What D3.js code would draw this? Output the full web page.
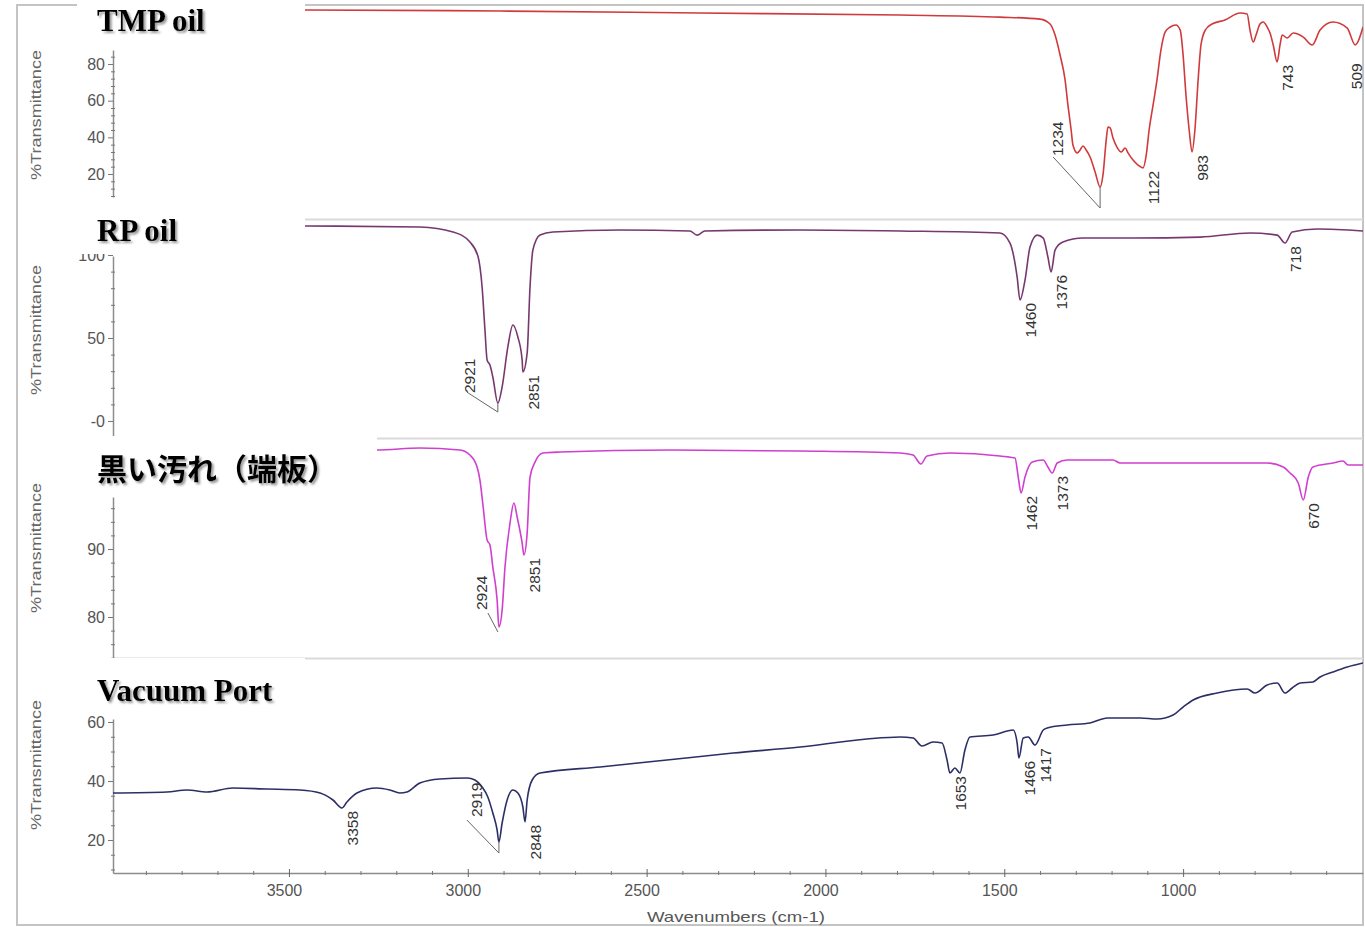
<!DOCTYPE html>
<html>
<head>
<meta charset="utf-8">
<script src="https://cdn.jsdelivr.net/npm/d3@7"></script>
<style>
  html, body { margin: 0; padding: 0; background: #fff; }
  svg { display: block; }
</style>
</head>
<body>
<div id="chart"></div>
<script>
// spectra: [wavenumber (cm-1), %T]
const tmpOil = [
  [3992,109.5],[3455,109.5],[2910,108.9],[2351,107.8],[1791,106.7],[1512,105.6],[1400,104.5],[1372,101.8],
  [1358,95.8],[1344,84.9],[1330,71.3],[1322,57.6],[1313,44.0],[1308,35.8],[1296,31.5],[1288,33.1],[1280,35.3],
  [1271,33.1],[1260,29.3],[1246,21.1],[1232,12.9],[1224,19.5],[1215,38.5],[1210,45.6],[1204,45.1],[1196,39.6],
  [1185,34.7],[1173,32.0],[1162,34.2],[1154,31.5],[1140,27.6],[1126,24.9],[1112,23.3],[1103,30.4],[1095,44.0],
  [1084,57.6],[1073,71.3],[1062,87.6],[1050,97.5],[1036,100.2],[1020,101.3],[1008,98.5],[1000,84.9],[992,63.1],
  [983,44.0],[975,32.0],[967,44.0],[958,71.3],[950,90.4],[938,98.5],[919,101.8],[883,104.0],[841,107.8],
  [821,107.3],[813,98.5],[804,92.0],[796,95.8],[785,101.8],[776,102.9],[765,100.2],[757,96.9],[748,90.4],
  [737,81.1],[729,90.4],[723,95.8],[709,94.2],[692,96.9],[664,94.7],[639,90.4],[617,98.5],[581,102.9],
  [541,99.6],[519,90.4],[497,100.2]
];
const rpOil = [
  [3992,118.1],[3455,117.5],[3134,116.9],[3041,113.9],[2994,107.8],[2971,98.8],[2960,80.7],[2952,54.8],
  [2946,36.7],[2938,33.7],[2930,26.5],[2916,10.8],[2904,20.5],[2888,44.6],[2874,57.8],[2860,50.6],[2848,36.7],
  [2846,29.5],[2834,41.0],[2826,80.7],[2818,103.0],[2798,112.0],[2762,113.9],[2574,115.1],[2379,114.5],
  [2359,112.0],[2337,114.5],[2071,115.1],[1791,114.5],[1512,113.3],[1484,107.2],[1464,86.7],[1456,72.9],
  [1442,84.9],[1428,104.8],[1408,112.0],[1391,110.2],[1378,98.8],[1369,89.8],[1358,103.0],[1336,107.8],
  [1280,110.2],[1140,110.2],[952,110.8],[813,113.3],[737,112.0],[715,107.2],[695,113.9],[625,115.7],[497,114.5]
];
const blackStain = [
  [3992,104.7],[3254,104.56],[3134,104.85],[3022,104.56],[2994,103.82],[2974,102.06],[2966,100.15],[2957,96.18],
  [2946,91.32],[2938,90.59],[2930,87.35],[2918,82.5],[2913,78.53],[2904,81.03],[2896,87.35],[2882,93.82],
  [2871,96.76],[2862,94.71],[2848,90.88],[2843,89.12],[2834,92.35],[2826,100.59],[2812,102.79],[2790,104.12],
  [2742,104.26],[2435,104.56],[2071,104.41],[1791,104.12],[1755,103.82],[1733,102.5],[1716,103.68],[1652,104.12],
  [1512,103.68],[1470,103.38],[1461,100.59],[1453,98.24],[1442,100.59],[1422,102.79],[1391,103.09],[1378,102.06],
  [1366,101.18],[1352,102.65],[1324,103.09],[1196,103.09],[1176,102.65],[952,102.65],[765,102.65],[720,102.06],
  [701,101.18],[678,99.71],[664,97.21],[650,100.59],[637,102.06],[581,102.65],[553,102.94],[539,102.35],[497,102.35]
];
const vacuumPort = [
  [3992,35.93],[3841,36.27],[3785,36.95],[3729,36.27],[3657,37.63],[3562,37.29],[3469,36.95],[3413,35.93],
  [3377,33.56],[3352,30.85],[3338,32.88],[3310,35.93],[3254,37.63],[3218,36.95],[3190,35.93],[3170,36.27],
  [3134,39.32],[3078,40.68],[3002,41.02],[2980,40.34],[2960,37.97],[2944,34.58],[2930,29.15],[2918,23.39],
  [2913,19.3],[2904,25.76],[2890,33.56],[2874,36.95],[2860,35.93],[2846,31.19],[2840,26.1],[2834,33.56],
  [2820,40.34],[2798,42.71],[2630,44.75],[2443,47.12],[2258,49.49],[2071,51.53],[1884,54.24],[1791,54.92],
  [1755,54.58],[1730,51.86],[1699,53.22],[1674,52.88],[1660,47.12],[1652,42.71],[1638,44.41],[1624,42.71],
  [1610,50.51],[1596,54.92],[1531,55.59],[1475,57.29],[1464,52.88],[1459,47.8],[1447,54.58],[1433,54.92],
  [1414,52.2],[1391,57.29],[1380,57.97],[1324,58.98],[1260,59.66],[1212,61.36],[1120,61.36],[1073,61.02],
  [1028,62.37],[1000,65.08],[972,67.46],[905,69.83],[821,71.19],[799,69.83],[765,72.54],[737,73.22],
  [715,69.83],[695,71.53],[673,73.22],[637,73.56],[617,75.25],[581,76.95],[541,78.64],[497,80.0]
];

// peak labels: [text, wavenumber, %T]
const tmpPeaks = [["1234",1232,12.9],["1122",1112,23.3],["983",975,32.0],["743",737,81.1],["509",545,82]];
const rpPeaks = [["2921",2916,10.8],["2851",2846,29.5],["1460",1456,72.9],["1376",1369,89.8],["718",715,107.2]];
const stainPeaks = [["2924",2913,78.53],["2851",2843,89.12],["1462",1453,98.24],["1373",1366,101.18],["670",664,97.21]];
const vacuumPeaks = [["3358",3352,30.85],["2919",2913,19.3],["2848",2840,26.1],["1653",1652,42.71],["1466",1459,47.8],["1417",1414,52.2]];

// axes
const xDomain = [3992, 497];
const xTicks = [3500, 3000, 2500, 2000, 1500, 1000];
const tmpYTicks = [20, 40, 60, 80];
const tmpYLabels = ["20", "40", "60", "80"];
const rpYTicks = [0, 50, 100];
const rpYLabels = ["-0", "50", "100"];
const stainYTicks = [80, 90];
const stainYLabels = ["80", "90"];
const vacuumYTicks = [20, 40, 60];
const vacuumYLabels = ["20", "40", "60"];

const titles = ["TMP oil", "RP oil", "黒い汚れ（端板）", "Vacuum Port"];

// layout
const W = 1365, H = 927;
const plotLeft = 113, plotRight = 1363;

const panels = [
  { title: titles[0], data: tmpOil, peaks: tmpPeaks, ticks: tmpYTicks, labels: tmpYLabels, minor: 4,
    yDomain: [7.45, 87.64], axisTop: 50, axisBottom: 197, top: 5, bottom: 219,
    color: "#d03a3c", box: [77, 0, 228, 48], titleY: 31, ylabelY: 115, font: "serif" },
  { title: titles[1], data: rpOil, peaks: rpPeaks, ticks: rpYTicks, labels: rpYLabels, minor: 10,
    yDomain: [-9.64, 99.4], axisTop: 256, axisBottom: 437, top: 221, bottom: 438,
    color: "#76386f", box: [77, 212, 228, 42], titleY: 241, ylabelY: 330, font: "serif" },
  { title: titles[2], data: blackStain, peaks: stainPeaks, ticks: stainYTicks, labels: stainYLabels, minor: 2,
    yDomain: [73.97, 97.65], axisTop: 497, axisBottom: 658, top: 440, bottom: 658,
    color: "#d03fd0", box: [77, 436, 300, 58], titleY: 480, ylabelY: 548, font: "cjk" },
  { title: titles[3], data: vacuumPort, peaks: vacuumPeaks, ticks: vacuumYTicks, labels: vacuumYLabels, minor: 5,
    yDomain: [8.81, 61.02], axisTop: 719, axisBottom: 873, top: 660, bottom: 873,
    color: "#2c2f66", box: [77, 658, 228, 58], titleY: 701, ylabelY: 765, font: "serif" }
];

// labels that sit off to the left with a leader line (pixel offsets from the peak)
const leaders = {
  "1234": { text: [-37, -31], line: [[-47, -30], [0, 21], [0, 0]] },
  "2921": { text: [-23, -10], line: [[-31, -11], [0, 9], [0, 0]] },
  "2924": { text: [-12, -17], line: [[-11, -14], [-1, 5]] },
  "2919": { text: [-17, -25], line: [[-32, -22], [0, 11], [0, 0]] }
};

const sans = "'Liberation Sans', Arial, sans-serif";
const axisColor = "#8c8c8c";
const textColor = "#555";

const svg = d3.select("#chart").append("svg")
  .attr("width", W).attr("height", H)
  .attr("font-family", sans);

svg.append("rect").attr("width", W).attr("height", H).attr("fill", "#fff");

const defs = svg.append("defs");
defs.append("filter").attr("id", "shadow")
  .attr("x", "-5%").attr("y", "-20%").attr("width", "115%").attr("height", "160%")
  .append("feDropShadow")
  .attr("dx", 2).attr("dy", 2).attr("stdDeviation", 1.2)
  .attr("flood-color", "#777").attr("flood-opacity", 0.75);

const x = d3.scaleLinear().domain(xDomain).range([plotLeft, plotRight]);

// outer frame
svg.append("rect")
  .attr("x", 17).attr("y", 5).attr("width", plotRight - 17).attr("height", 920)
  .attr("fill", "none").attr("stroke", "#c4c4c4").attr("stroke-width", 2);

panels.forEach((p, i) => {
  const y = d3.scaleLinear().domain(p.yDomain).range([p.axisBottom, p.axisTop]);
  const g = svg.append("g").attr("class", "panel");

  // separator under the panel
  if (i < panels.length - 1) {
    g.append("line")
      .attr("x1", plotLeft).attr("x2", plotRight)
      .attr("y1", p.bottom + 0.5).attr("y2", p.bottom + 0.5)
      .attr("stroke", "#dadada").attr("stroke-width", 2);
  }

  // minor ticks on the y axis
  const minorVals = d3.range(Math.ceil(p.yDomain[0] / p.minor) * p.minor, p.yDomain[1], p.minor)
    .filter(v => !p.ticks.includes(v));
  const minorAxis = d3.axisLeft(y).tickValues(minorVals).tickSize(2).tickSizeOuter(0).tickFormat("");
  g.append("g").attr("transform", `translate(${plotLeft},0)`).call(minorAxis)
    .call(a => a.selectAll(".tick line").attr("x2", 2).attr("x1", -2).attr("stroke", "#777"))
    .call(a => a.select(".domain").attr("stroke", axisColor).attr("stroke-width", 1.5));

  // major ticks + labels
  const yAxis = d3.axisLeft(y).tickValues(p.ticks).tickSize(5).tickSizeOuter(0)
    .tickFormat((d, k) => p.labels[k]);
  g.append("g").attr("transform", `translate(${plotLeft},0)`).call(yAxis)
    .call(a => a.select(".domain").remove())
    .call(a => a.selectAll(".tick line").attr("stroke", "#777"))
    .call(a => a.selectAll(".tick text")
      .attr("font-family", sans).attr("font-size", 16).attr("fill", textColor).attr("x", -8));

  // y axis title
  g.append("text")
    .attr("transform", `translate(41,${p.ylabelY}) rotate(-90)`)
    .attr("text-anchor", "middle")
    .attr("font-size", 14).attr("fill", "#666")
    .attr("textLength", 130).attr("lengthAdjust", "spacingAndGlyphs")
    .text("%Transmittance");

  // spectrum
  const clipId = "clip" + i;
  defs.append("clipPath").attr("id", clipId).append("rect")
    .attr("x", plotLeft).attr("y", p.top).attr("width", plotRight - plotLeft).attr("height", p.bottom - p.top);
  const line = d3.line().curve(d3.curveMonotoneX).x(d => x(d[0])).y(d => y(d[1]));
  g.append("path")
    .datum(p.data)
    .attr("clip-path", `url(#${clipId})`)
    .attr("d", line)
    .attr("fill", "none")
    .attr("stroke", p.color)
    .attr("stroke-width", 1.6)
    .attr("stroke-linejoin", "round");

  // peak labels
  p.peaks.forEach(([label, wn, t]) => {
    const px = x(wn), py = y(t);
    const lead = leaders[label];
    if (lead) {
      g.append("polyline")
        .attr("points", lead.line.map(([dx, dy]) => `${px + dx},${py + dy}`).join(" "))
        .attr("fill", "none").attr("stroke", "#666").attr("stroke-width", 1);
      g.append("text")
        .attr("transform", `translate(${px + lead.text[0]},${py + lead.text[1]}) rotate(-90)`)
        .attr("text-anchor", "start")
        .attr("font-size", 15.5).attr("fill", "#333")
        .text(label);
    } else {
      g.append("text")
        .attr("transform", `translate(${px + 16},${py + 3}) rotate(-90)`)
        .attr("text-anchor", "end")
        .attr("font-size", 15.5).attr("fill", "#333")
        .text(label);
    }
  });
});

// bottom wavenumber axis
const last = panels[panels.length - 1];
const minorX = d3.range(600, 3901, 100).filter(v => v % 500 !== 0);
svg.append("g").attr("transform", `translate(0,${last.axisBottom})`)
  .call(d3.axisBottom(x).tickValues(minorX).tickSize(2).tickSizeOuter(0).tickFormat(""))
  .call(a => a.selectAll(".tick line").attr("y1", -2).attr("y2", 2).attr("stroke", "#777"))
  .call(a => a.select(".domain").attr("stroke", axisColor).attr("stroke-width", 1.5));
svg.append("g").attr("transform", `translate(0,${last.axisBottom})`)
  .call(d3.axisBottom(x).tickValues(xTicks).tickSize(4).tickSizeOuter(0).tickFormat(d3.format("d")))
  .call(a => a.select(".domain").remove())
  .call(a => a.selectAll(".tick line").attr("y1", -4).attr("stroke", "#666"))
  .call(a => a.selectAll(".tick text")
    .attr("font-family", sans).attr("font-size", 16).attr("fill", textColor)
    .attr("x", -5).attr("y", 12));

svg.append("text")
  .attr("x", 736).attr("y", 922)
  .attr("text-anchor", "middle")
  .attr("font-size", 15).attr("fill", textColor)
  .attr("textLength", 178).attr("lengthAdjust", "spacingAndGlyphs")
  .text("Wavenumbers (cm-1)");

// white title boxes sitting over the upper-left of each panel
panels.forEach(p => {
  svg.append("rect")
    .attr("x", p.box[0]).attr("y", p.box[1]).attr("width", p.box[2]).attr("height", p.box[3])
    .attr("fill", "#fff");
  svg.append("text")
    .attr("x", 97).attr("y", p.titleY)
    .attr("font-family", p.font === "cjk"
      ? "'Noto Sans CJK JP', 'Noto Sans CJK SC', sans-serif"
      : "'Liberation Serif', 'Times New Roman', serif")
    .attr("font-weight", "bold")
    .attr("font-size", p.font === "cjk" ? 30 : 31)
    .attr("fill", "#000")
    .attr("filter", "url(#shadow)")
    .text(p.title);
});
</script>
</body>
</html>
